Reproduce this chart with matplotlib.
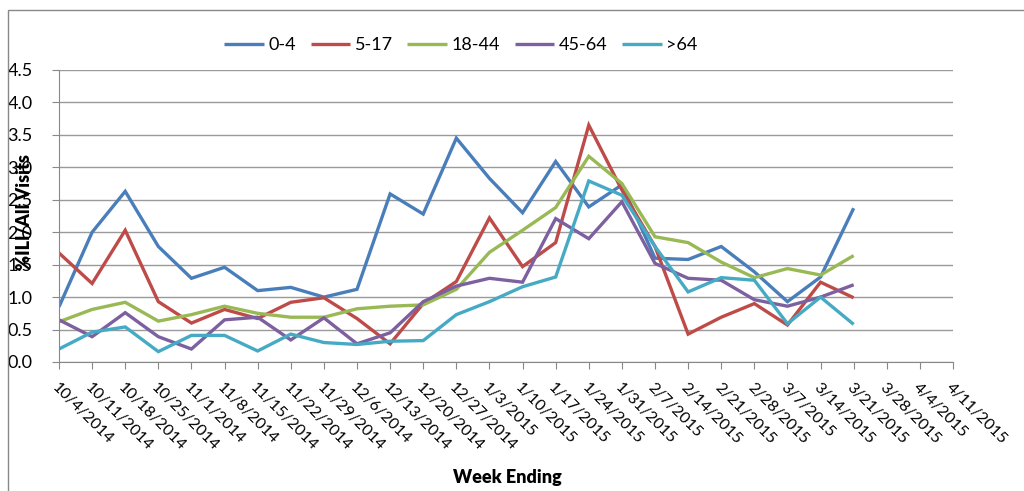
import matplotlib
matplotlib.use('Agg')
import matplotlib.pyplot as plt
from matplotlib.patches import Rectangle
import numpy as np

plt.rcParams['font.family'] = ['Lato', 'DejaVu Sans']

# week ending dates (category axis)
weeks = ['10/4/2014', '10/11/2014', '10/18/2014', '10/25/2014', '11/1/2014',
         '11/8/2014', '11/15/2014', '11/22/2014', '11/29/2014', '12/6/2014',
         '12/13/2014', '12/20/2014', '12/27/2014', '1/3/2015', '1/10/2015',
         '1/17/2015', '1/24/2015', '1/31/2015', '2/7/2015', '2/14/2015',
         '2/21/2015', '2/28/2015', '3/7/2015', '3/14/2015', '3/21/2015',
         '3/28/2015', '4/4/2015', '4/11/2015']

# %ILI by age group (data up to 3/21/2015)
age_0_4 = [0.85, 2.00, 2.63, 1.78, 1.29, 1.46, 1.10, 1.15, 1.00, 1.12,
           2.59, 2.28, 3.45, 2.83, 2.30, 3.09, 2.39, 2.73, 1.60, 1.58,
           1.78, 1.39, 0.93, 1.31, 2.37]
age_5_17 = [1.68, 1.21, 2.03, 0.93, 0.60, 0.81, 0.67, 0.92, 0.99, 0.67,
            0.28, 0.90, 1.24, 2.22, 1.47, 1.84, 3.65, 2.65, 1.78, 0.43,
            0.69, 0.90, 0.57, 1.23, 0.99]
age_18_44 = [0.62, 0.81, 0.92, 0.63, 0.73, 0.86, 0.75, 0.69, 0.69, 0.82,
             0.86, 0.88, 1.12, 1.69, 2.03, 2.38, 3.17, 2.75, 1.93, 1.84,
             1.54, 1.30, 1.44, 1.34, 1.64]
age_45_64 = [0.65, 0.39, 0.76, 0.39, 0.20, 0.65, 0.69, 0.34, 0.68, 0.28,
             0.45, 0.93, 1.17, 1.29, 1.23, 2.21, 1.90, 2.47, 1.52, 1.29,
             1.26, 0.96, 0.86, 1.00, 1.19]
age_64plus = [0.20, 0.46, 0.54, 0.16, 0.41, 0.41, 0.17, 0.43, 0.30, 0.27,
              0.32, 0.33, 0.73, 0.93, 1.16, 1.31, 2.79, 2.57, 1.78, 1.08,
              1.30, 1.26, 0.59, 1.00, 0.58]

series = [('0-4', age_0_4, '#4A7EBB'),
          ('5-17', age_5_17, '#BE4B48'),
          ('18-44', age_18_44, '#98B954'),
          ('45-64', age_45_64, '#7D60A0'),
          ('>64', age_64plus, '#46AAC5')]

fig = plt.figure(figsize=(10.24, 4.91), dpi=100)
ax = fig.add_axes([59/1024, 1-362/491, 894/1024, 292/491])

# chart border (only left/top visible in the crop)
fig.patches.append(Rectangle((8/1024, -0.1), 1.2, 1-10/491+0.1, transform=fig.transFigure,
                             fill=False, edgecolor='#888888', lw=1.0))

for name, vals, col in series:
    ax.plot(np.arange(len(vals)), vals, color=col, lw=2.4, label=name,
            solid_joinstyle='miter', solid_capstyle='butt')

ax.set_xlim(0, len(weeks)-1)
ax.set_ylim(0, 4.5)
ax.set_yticks(np.arange(0, 4.51, 0.5))
ax.set_yticklabels(['%.1f' % v for v in np.arange(0, 4.51, 0.5)], fontsize=13)
ax.set_xticks(np.arange(len(weeks)))
ax.set_xticklabels(weeks, rotation=-45, ha='left', va='top', rotation_mode='anchor',
                   fontsize=11.5)
ax.grid(axis='y', color='#9a9a9a', lw=1.0)
ax.set_axisbelow(True)
for s in ['top', 'right']:
    ax.spines[s].set_visible(False)
ax.spines['left'].set_color('#888888')
ax.spines['bottom'].set_color('#888888')
ax.tick_params(axis='both', direction='out', color='#888888', length=5)
ax.tick_params(axis='y', pad=14)
ax.tick_params(axis='x', pad=8)

fig.text(507/1024, 1-478/491, 'Week Ending', ha='center', va='center',
         fontsize=13, fontweight='heavy')
fig.text(25/1024, 1-212/491, '%ILI/All Visits', ha='center', va='center',
         rotation=90, fontsize=13, fontweight='heavy')

fig.legend(loc='center', bbox_to_anchor=(461/1024, 1-45/491), ncol=5, frameon=False,
           fontsize=13, handlelength=2.2, columnspacing=0.8, handletextpad=0.25)

fig.savefig('out.png', dpi=100)
